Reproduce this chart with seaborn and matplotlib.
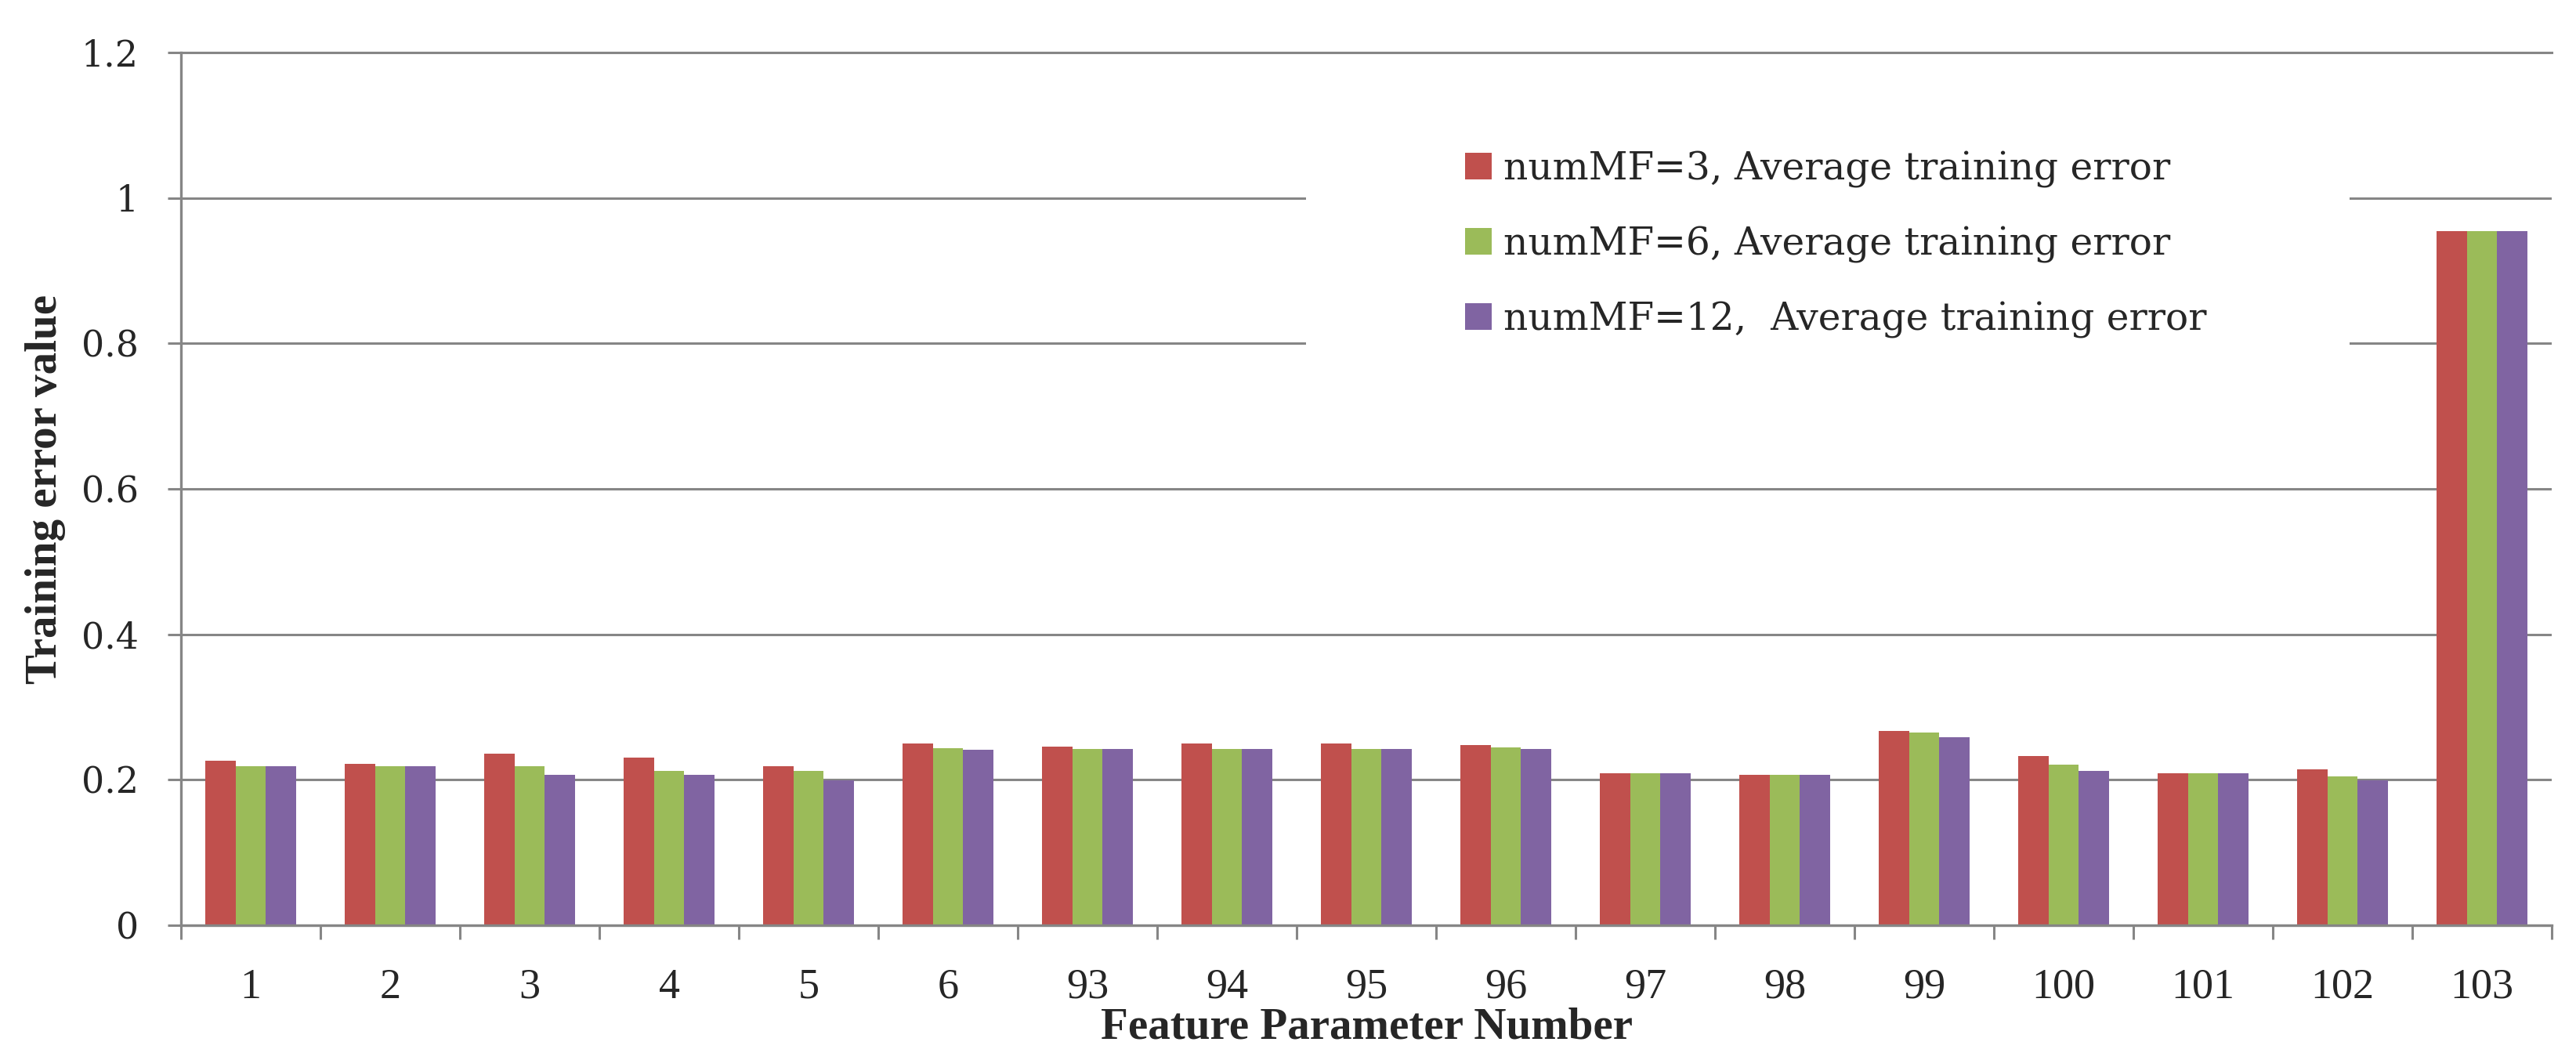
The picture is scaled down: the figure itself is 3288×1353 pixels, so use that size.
#!/usr/bin/env python3
"""Grouped bar chart: average training error per feature parameter for three numMF settings."""

import matplotlib

matplotlib.use("Agg")

import matplotlib.pyplot as plt
from matplotlib.patches import Rectangle
from matplotlib.ticker import FixedLocator
import pandas as pd
import seaborn as sns


PARAMS = ["1", "2", "3", "4", "5", "6", "93", "94", "95", "96",
          "97", "98", "99", "100", "101", "102", "103"]
SERIES = [
    "numMF=3, Average training error",
    "numMF=6, Average training error",
    "numMF=12,  Average training error",
]
MF3 = [0.226, 0.222, 0.236, 0.231, 0.219, 0.250, 0.246, 0.250, 0.250, 0.248,
       0.209, 0.207, 0.267, 0.233, 0.209, 0.214, 0.954]
MF6 = [0.219, 0.219, 0.219, 0.212, 0.212, 0.243, 0.242, 0.242, 0.242, 0.245,
       0.209, 0.207, 0.265, 0.221, 0.209, 0.205, 0.954]
MF12 = [0.219, 0.219, 0.207, 0.207, 0.199, 0.241, 0.242, 0.242, 0.242, 0.242,
        0.209, 0.207, 0.258, 0.212, 0.209, 0.199, 0.954]
COLORS = ["#C0504D", "#9BBB59", "#8064A2"]
GRID = "#868686"

df = pd.DataFrame({
    "param": PARAMS * 3,
    "series": [SERIES[0]] * len(PARAMS) + [SERIES[1]] * len(PARAMS) + [SERIES[2]] * len(PARAMS),
    "value": MF3 + MF6 + MF12,
})

sns.set_theme(style="white")
plt.rcParams["font.family"] = ["DejaVu Serif"]

fig = plt.figure(figsize=(32.88, 13.53), dpi=100)
ax = fig.add_axes([231 / 3288, 1 - 1181 / 1353, 3026 / 3288, 1114 / 1353])

sns.barplot(
    data=df, x="param", y="value", hue="series", order=PARAMS, hue_order=SERIES,
    palette=COLORS, saturation=1, width=0.655, linewidth=0, ax=ax, legend=True,
)

ax.set_xlim(-0.5, len(PARAMS) - 0.5)
ax.set_ylim(0, 1.2)
ax.set_yticks([0, 0.2, 0.4, 0.6, 0.8, 1.0, 1.2])
ax.set_yticklabels(["0", "0.2", "0.4", "0.6", "0.8", "1", "1.2"])
ax.yaxis.grid(True, color=GRID, linewidth=2.2)
ax.set_axisbelow(True)

for side in ["left", "bottom", "top"]:
    ax.spines[side].set_color(GRID)
    ax.spines[side].set_linewidth(2.4)
ax.spines["right"].set_visible(False)
ax.spines["top"].set_linewidth(2.2)

ax.xaxis.set_minor_locator(FixedLocator([i - 0.5 for i in range(len(PARAMS) + 1)]))
ax.tick_params(axis="x", which="major", length=0, pad=39, labelsize=39)
ax.tick_params(axis="x", which="minor", length=13, width=2.2, color=GRID, bottom=True)
ax.tick_params(axis="y", which="major", length=12, width=2.2, color=GRID, left=True,
               pad=27, labelsize=33)
for lbl in ax.get_xticklabels():
    lbl.set_family("Liberation Serif")

ax.set_xlabel("Feature Parameter Number", fontsize=41, fontweight="bold",
              family="Liberation Serif", labelpad=0)
ax.set_ylabel("Training error value", fontsize=41, fontweight="bold",
              family="Liberation Serif", labelpad=14)

# white block behind the legend, breaking the gridlines like the original
ax.add_patch(Rectangle((0.4745, 0.64), 0.4402, 0.275, transform=ax.transAxes,
                       facecolor="white", edgecolor="none", zorder=1.5))

handles, labels = ax.get_legend_handles_labels()
ax.legend(
    handles, labels, loc="center left", bbox_to_anchor=(1870 / 3288, 1 - 312 / 1353),
    bbox_transform=fig.transFigure, frameon=False, fontsize=35, borderpad=0,
    borderaxespad=0, handlelength=0.69, handleheight=0.69, handletextpad=0.31,
    labelspacing=1.0,
)

fig.savefig("out.png", dpi=100)
plt.close(fig)
